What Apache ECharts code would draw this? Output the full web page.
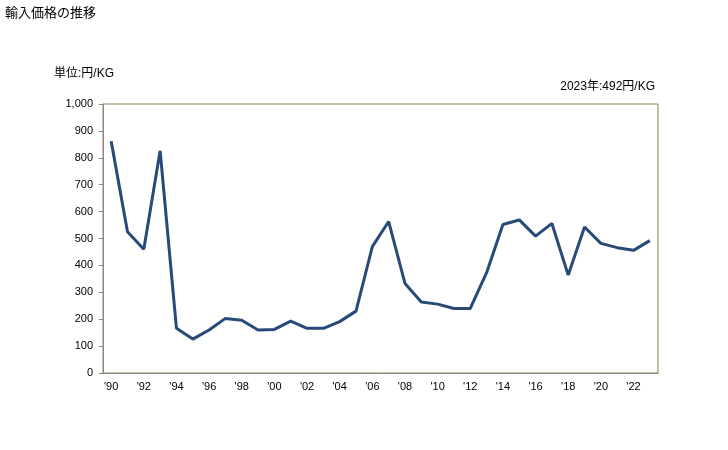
<!DOCTYPE html>
<html>
<head>
<meta charset="utf-8">
<script src="https://cdn.jsdelivr.net/npm/echarts@6/dist/echarts.min.js"></script>
<style>
  html, body { margin: 0; padding: 0; background: #fff; }
  #chart { width: 728px; height: 450px; }
</style>
</head>
<body>
<div id="chart"></div>
<script>
const years = [];
for (let y = 1990; y <= 2023; y++) years.push(y);

const prices = [
  862, 525, 460, 826, 166, 126, 160, 203, 196, 160,
  162, 193, 166, 166, 191, 230, 470, 563, 333, 264,
  256, 240, 240, 373, 552, 569, 509, 556, 364, 543,
  482, 466, 456, 492
];

const yTicks = [0, 100, 200, 300, 400, 500, 600, 700, 800, 900, 1000];

const fontFamily = '"Liberation Sans", "Noto Sans CJK JP", sans-serif';

function fn_graf_linha(id) {
    const chartDom = document.getElementById(id);
    const myChart = echarts.init(chartDom);

    const option = {
        animation: false,
        textStyle: { fontFamily: fontFamily },
        title: [
            { text: '輸入価格の推移', left: 0, top: 2,
              textStyle: { fontSize: 13, fontWeight: 'normal', color: '#000', fontFamily: fontFamily } },
            { text: '単位:円/KG', left: 49, top: 63,
              textStyle: { fontSize: 12, fontWeight: 'normal', color: '#000', fontFamily: fontFamily } },
            { text: '2023年:492円/KG', right: 68, top: 76,
              textStyle: { fontSize: 12, fontWeight: 'normal', color: '#000', fontFamily: fontFamily } }
        ],
        grid: {
            left: 103, right: 70, top: 104, bottom: 77,
            show: true, borderColor: '#8f8048', borderWidth: 1, backgroundColor: '#fff'
        },
        xAxis: {
            type: 'category',
            data: years,
            boundaryGap: true,
            axisLine: { lineStyle: { color: '#888', width: 1 } },
            axisTick: { show: false },
            axisLabel: {
                interval: 1,
                margin: 8,
                fontSize: 11,
                color: '#000',
                formatter: v => "'" + String(v).slice(2)
            }
        },
        yAxis: {
            type: 'value',
            min: yTicks[0],
            max: yTicks[yTicks.length - 1],
            interval: 100,
            axisLine: { show: true, lineStyle: { color: '#888', width: 1 } },
            axisTick: { show: true, length: 4, lineStyle: { color: '#888' } },
            splitLine: { show: false },
            axisLabel: {
                fontSize: 11,
                color: '#000',
                margin: 10,
                formatter: v => v.toLocaleString('en-US')
            }
        },
        series: [{
            type: 'line',
            data: prices,
            symbol: 'none',
            lineStyle: { color: '#284a78', width: 3 }
        }]
    };

    myChart.setOption(option);
}

fn_graf_linha('chart');
</script>
</body>
</html>
